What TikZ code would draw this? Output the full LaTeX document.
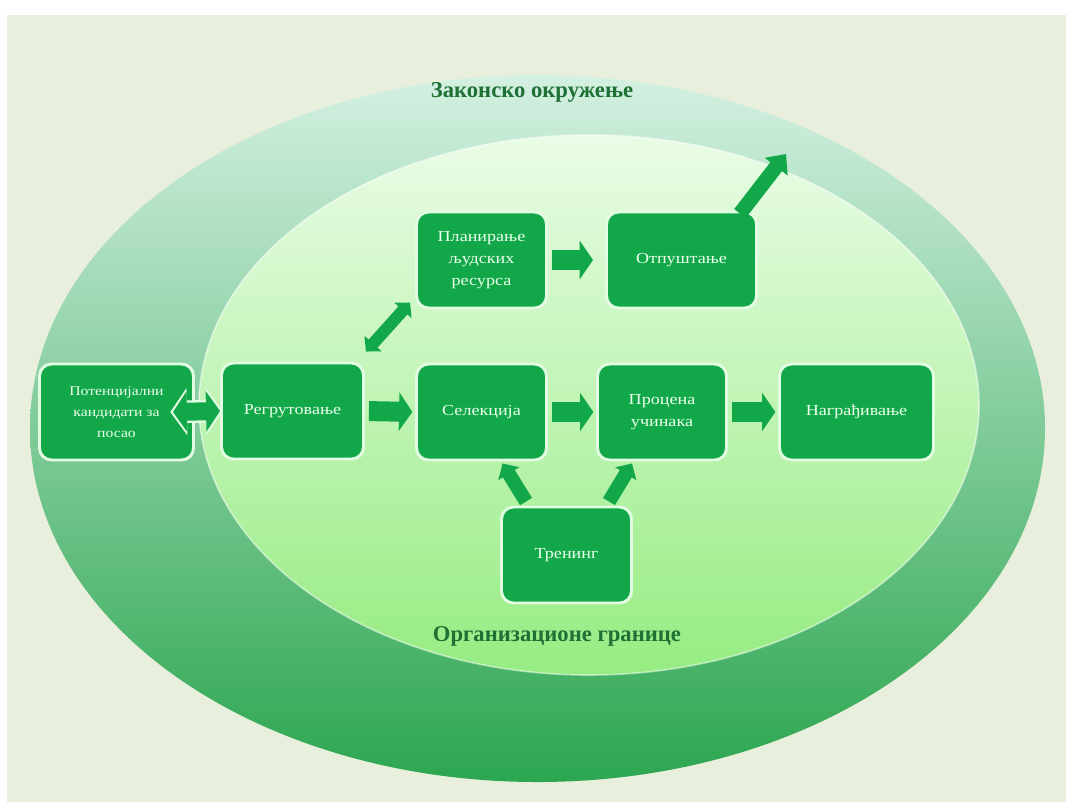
\documentclass[tikz,border=0pt]{standalone}
\usepackage{fontspec}
\setmainfont{Liberation Serif}
\newfontfamily\boxfont[FakeStretch=1.18]{Liberation Serif}
\usetikzlibrary{arrows.meta,calc}
\definecolor{pagebg}{RGB}{232,239,220}
\definecolor{boxgreen}{RGB}{18,168,74}
\definecolor{boxedge}{RGB}{226,252,226}
\definecolor{boxtext}{RGB}{236,255,236}
\definecolor{titlegreen}{RGB}{30,112,52}
\definecolor{outertop}{RGB}{212,240,226}
\definecolor{outermid}{RGB}{150,212,168}
\definecolor{outerbot}{RGB}{44,166,80}
\definecolor{innertop}{RGB}{234,252,230}
\definecolor{innermid}{RGB}{200,246,190}
\definecolor{innerbot}{RGB}{150,236,130}
\begin{document}
\begin{tikzpicture}[x=0.75pt,y=-0.75pt,
  stage/.style={draw=boxedge, line width=2.2pt, fill=boxgreen, rounded corners=9pt,
    text=boxtext, font=\boxfont\fontsize{11.5}{16.5}\selectfont, align=center,
    inner sep=0pt, minimum width=97.5pt, minimum height=72pt},
  title/.style={text=titlegreen, font=\bfseries\fontsize{17}{20}\selectfont},
  flow/.style={boxgreen, line width=15pt, -{Triangle[width=28.5pt,length=10pt]}},
  linkdbl/.style={boxgreen, line width=9pt,
    {Triangle[width=17pt,length=8pt]}-{Triangle[width=17pt,length=8pt]}},
  feed/.style={boxgreen, line width=10.5pt, -{Triangle[width=18pt,length=9pt]}},
  exitarrow/.style={boxgreen, line width=11pt, -{Triangle[width=21pt,length=12pt]}}
]
\useasboundingbox (0,0) rectangle (1066,801);
\fill[white] (0,0) rectangle (1066,801);
\fill[pagebg] (7,15) rectangle (1067,802);

% outer ring: legal environment
\shade[top color=outertop, middle color=outermid, bottom color=outerbot]
  (537.5,428.5) ellipse [x radius=507.5, y radius=353.5];
% inner area: organisational boundaries
\shade[top color=innertop, middle color=innermid, bottom color=innerbot]
  (589,405) ellipse [x radius=390, y radius=270];
\draw[white, opacity=0.5, line width=1.2pt] (589,405) ellipse [x radius=390, y radius=270];

\node[title] (legal) at (532,92) {Законско окружење};
\node[title] (org) at (557,636) {Организационе границе};

% process stages
\node[stage, minimum width=115.5pt, font=\boxfont\fontsize{10}{15.5}\selectfont]
  (pot) at (116.5,412) {Потенцијални\\кандидати за\\посао};
\node[stage, minimum width=106.5pt] (reg) at (292.5,411) {Регрутовање};
\node[stage] (sel) at (481.5,412) {Селекција};
\node[stage, minimum width=96.8pt] (proc) at (662,412) {Процена\\учинака};
\node[stage, minimum width=115.5pt] (nagr) at (856.5,412) {Награђивање};
\node[stage] (plan) at (481.5,260) {Планирање\\људских\\ресурса};
\node[stage, minimum width=112.5pt] (otp) at (681.5,260) {Отпуштање};
\node[stage] (tren) at (566.5,555) {Тренинг};

\coordinate (exit) at (786,154);

% connectors
\draw[boxedge, line width=17pt, shorten <=-2pt, shorten >=-2pt,
  {Triangle[width=35pt,length=12.5pt]}-{Triangle[width=35pt,length=12.5pt]}]
  ([xshift=-16.5pt]pot.east) -- (reg.west);
\draw[boxgreen, line width=13.5pt,
  {Triangle[width=30pt,length=10.5pt]}-{Triangle[width=30pt,length=10.5pt]}]
  ([xshift=-16.5pt]pot.east) -- (reg.west);

\draw[flow, shorten <=3pt, shorten >=2pt] (reg.east) -- (sel.west);
\draw[flow, shorten <=3pt, shorten >=2pt] (sel.east) -- (proc.west);
\draw[flow, shorten <=3pt, shorten >=2pt] (proc.east) -- (nagr.west);
\draw[flow, shorten <=3pt, shorten >=9pt] (plan.east) -- (otp.west);

\draw[linkdbl] ($(reg.north east)+(1,-10)$) -- ($(plan.south west)+(-5,-7)$);
\draw[exitarrow] ($(otp.north east)+(-18,3)$) -- (exit);

\draw[feed] ($(tren.north west)+(26,-4)$) -- ($(sel.south)+(21,2)$);
\draw[feed] ($(tren.north east)+(-24,-4)$) -- ($(proc.south)+(-30,2)$);
\end{tikzpicture}
\end{document}
